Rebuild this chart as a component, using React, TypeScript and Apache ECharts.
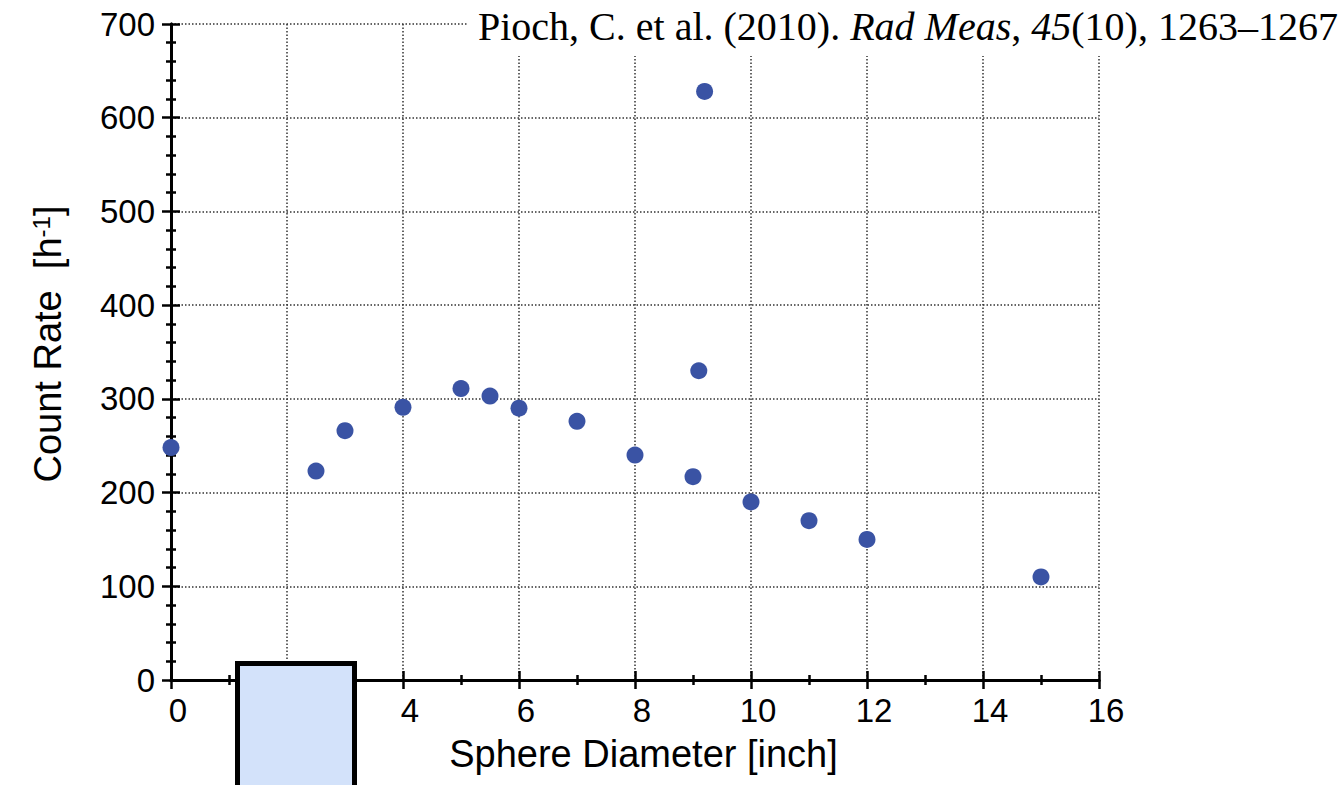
import React, { useEffect, useRef } from "react";
import * as echarts from "echarts";

// Sphere diameters [inch] and measured count rates [1/h]
const diameters = [0, 2.5, 3, 4, 5, 5.5, 6, 7, 8, 9, 9.1, 9.2, 10, 11, 12, 15];
const countRates = [248, 223, 266, 291, 311, 303, 290, 276, 240, 217, 330, 628, 190, 170, 150, 110];

const xTicks = [0, 2, 4, 6, 8, 10, 12, 14, 16];
const yTicks = [0, 100, 200, 300, 400, 500, 600, 700];

const SANS = 'Arial, "Liberation Sans", Helvetica, sans-serif';
const SERIF = '"Times New Roman", "Liberation Serif", serif';

export default function App() {
  const ref = useRef<HTMLDivElement>(null);

  useEffect(() => {
    if (!ref.current) return;
    const chart = echarts.init(ref.current, null, { renderer: "svg" });

    const axisLine = { show: true, lineStyle: { color: "#000", width: 3 } };
    // all ticks point into the frame
    const majorTick = () => ({ show: true, inside: true, length: 9, lineStyle: { color: "#000", width: 2.5 } });
    const minorTick = (n: number) => ({
      show: true,
      splitNumber: n,
      length: 5,
      lineStyle: { color: "#000", width: 2.5 },
    });
    const grid = () => ({
      show: true,
      lineStyle: { color: "#333", width: 1.5, type: [1.5, 2] as any },
    });

    const xMin = xTicks[0];
    const xMax = xTicks[xTicks.length - 1];
    const xStep = xTicks[1] - xTicks[0];
    const yMin = yTicks[0];
    const yMax = yTicks[yTicks.length - 1];
    const yStep = yTicks[1] - yTicks[0];

    chart.setOption({
      animation: false,
      backgroundColor: "#fff",
      title: {
        text: "Pioch, C. et al. (2010). {i|Rad Meas}, {i|45}(10), 1263–1267",
        left: 468,
        top: 0,
        padding: [6, 40, 10, 10],
        backgroundColor: "#fff",
        z: 50,
        textStyle: {
          fontFamily: SERIF,
          fontSize: 40,
          fontWeight: "normal",
          color: "#000",
          rich: {
            i: { fontFamily: SERIF, fontSize: 40, fontStyle: "italic", color: "#000" },
          },
        },
      },
      grid: { left: 171, right: 241, top: 24, bottom: 105 },
      xAxis: [
        {
          type: "value",
          min: xMin,
          max: xMax,
          interval: xStep,
          axisLine,
          axisTick: majorTick(),
          minorTick: minorTick(2),
          splitLine: grid(),
          axisLabel: {
            color: "#000",
            fontFamily: SANS,
            fontSize: 33,
            margin: 14,
            padding: [0, 0, 0, 14],
          },
          name: "Sphere Diameter [inch]",
          nameLocation: "middle",
          nameGap: 55,
          nameTextStyle: {
            color: "#000",
            fontFamily: SANS,
            fontSize: 38,
            padding: [0, 0, 0, 17],
          },
        },
        {
          type: "value",
          position: "top",
          min: xMin,
          max: xMax,
          interval: xStep,
          axisLine,
          axisTick: majorTick(),
          minorTick: minorTick(2),
          splitLine: { show: false },
          axisLabel: { show: false },
        },
      ],
      yAxis: [
        {
          type: "value",
          min: yMin,
          max: yMax,
          interval: yStep,
          axisLine,
          axisTick: majorTick(),
          minorTick: minorTick(5),
          splitLine: grid(),
          axisLabel: {
            color: "#000",
            fontFamily: SANS,
            fontSize: 33,
            margin: 16,
          },
          name: "Count Rate  [h{sup|-1}]",
          nameLocation: "middle",
          nameGap: 104,
          nameTextStyle: {
            color: "#000",
            fontFamily: SANS,
            fontSize: 38,
            padding: [0, 0, 0, 16],
            rich: {
              sup: { fontFamily: SANS, fontSize: 24, color: "#000", verticalAlign: "top" },
            },
          },
        },
        {
          type: "value",
          position: "right",
          min: yMin,
          max: yMax,
          interval: yStep,
          axisLine,
          axisTick: majorTick(),
          minorTick: minorTick(5),
          splitLine: { show: false },
          axisLabel: { show: false },
        },
      ],
      series: [
        {
          type: "scatter",
          xAxisIndex: 0,
          yAxisIndex: 0,
          symbol: "circle",
          symbolSize: 17,
          itemStyle: { color: "#3a53a4", opacity: 1 },
          data: diameters.map((d, i) => [d, countRates[i]]),
          z: 5,
        },
      ],
      graphic: [
        {
          type: "rect",
          z: 100,
          shape: { x: 237.5, y: 663.5, width: 117, height: 200 },
          style: { fill: "#d3e2fa", stroke: "#000", lineWidth: 5 },
        },
      ],
    });

    return () => chart.dispose();
  }, []);

  return (
    <div
      ref={ref}
      style={{ position: "fixed", left: 0, top: 0, width: 1340, height: 785 }}
    />
  );
}
